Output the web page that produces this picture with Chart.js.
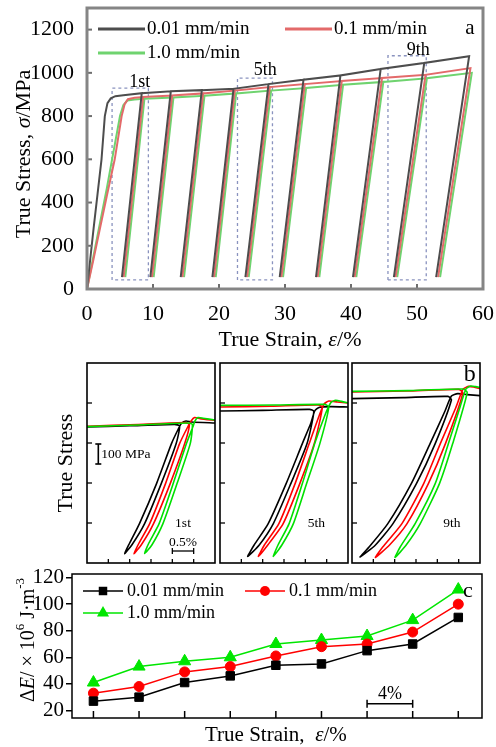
<!DOCTYPE html>
<html>
<head>
<meta charset="utf-8">
<script src="https://cdn.jsdelivr.net/npm/chart.js@4.4.1/dist/chart.umd.min.js"></script>
<style>
html, body { margin: 0; padding: 0; background: #fff; }
#wrap { position: relative; width: 496px; height: 747px; overflow: hidden; }
canvas { position: absolute; }
</style>
</head>
<body>
<div id="wrap">
  <canvas id="chartA" width="496" height="355" style="left:0;top:0"></canvas>
  <canvas id="chartB1" width="220" height="213" style="left:0;top:355px"></canvas>
  <canvas id="chartB2" width="136" height="213" style="left:216px;top:355px"></canvas>
  <canvas id="chartB3" width="148" height="213" style="left:348px;top:355px"></canvas>
  <canvas id="chartC" width="496" height="182" style="left:0;top:565px"></canvas>
</div>
<script>
// ---- data: panel a (true stress-strain, cyclic) ----
var seriesLabels = ['0.01 mm/min', '0.1 mm/min', '1.0 mm/min'];
var xTicksA = [0, 10, 20, 30, 40, 50, 60];
var yTicksA = [0, 200, 400, 600, 800, 1000, 1200];

var loadBlack = [[0,0],[0.5,140],[1.0,280],[1.6,440],[2.2,600],[2.7,800],[3.1,860],[3.6,882],[4.3,892],[5.5,896]];
var loadRed   = [[0,0],[1,140],[2,285],[3,430],[4.2,600],[5.25,800],[5.7,855],[6.2,878],[7.2,885]];
var loadGreen = [[0,0],[1,155],[2,310],[3,465],[3.8,600],[5.0,800],[5.5,850],[6.1,872],[7.2,877]];

var peakStrainBlack = [8.3, 12.7, 17.4, 22.2, 27.5, 32.8, 38.4, 44.5, 51.1, 57.9];
var peakStressBlack = [906, 915, 920, 926, 948, 968, 988, 1018, 1046, 1077];
var endStrainBlack  = [5.3, 9.6, 14.2, 19.0, 24.0, 29.2, 34.7, 40.3, 46.5, 52.9];

var peakStrainRed = [8.5, 12.9, 17.6, 22.4, 27.7, 33.0, 38.6, 44.7, 51.3, 58.1];
var peakStressRed = [888, 895, 905, 918, 934, 948, 962, 976, 991, 1022];
var endStrainRed  = [5.55, 9.85, 14.45, 19.25, 24.25, 29.45, 34.95, 40.55, 46.75, 53.2];

var peakStrainGreen = [8.7, 13.1, 17.8, 22.6, 27.9, 33.2, 38.8, 44.9, 51.5, 58.3];
var peakStressGreen = [880, 886, 894, 905, 918, 930, 945, 958, 975, 1000];
var endStrainGreen  = [5.8, 10.1, 14.7, 19.5, 24.5, 29.7, 35.2, 40.8, 47.0, 53.5];

var endStress = 55;

// dashed boxes around the 1st, 5th and 9th loops
var boxLeft = [3.8, 22.8, 45.6];
var boxRight = [9.3, 28.1, 51.4];
var boxTop = [929, 976, 1079];
var boxBottom = 42;

// ---- data: panel b (zoomed loops, relative strain in %, stress MPa) ----
var xTicksB = [0.5, 1, 1.5, 2, 2.5];
var yTicksB = [400, 600, 800, 1000];

var b1Black = [[0,880],[1.0,886],[2.05,893],[2.17,885],[2.09,797],[1.74,597],[1.35,397],[1.05,290],[0.88,247],[1.0,300],[1.23,397],[1.63,597],[1.98,797],[2.14,870],[2.22,900],[2.32,910],[2.45,905],[3,900]];
var b1Red   = [[0,884],[1.2,892],[2.3,902],[2.4,893],[2.29,797],[1.95,597],[1.56,397],[1.27,290],[1.1,247],[1.22,300],[1.47,397],[1.84,597],[2.17,797],[2.36,880],[2.44,910],[2.52,927],[2.65,922],[3,913]];
var b1Green = [[0,882],[1.2,890],[2.38,900],[2.47,893],[2.42,797],[2.11,597],[1.78,397],[1.52,290],[1.35,247],[1.45,300],[1.69,397],[2.02,597],[2.33,797],[2.48,880],[2.53,910],[2.6,927],[2.72,924],[3,915]];

var b2Black = [[0,960],[1.0,963],[2.1,968],[2.2,958],[2.04,797],[1.66,597],[1.25,397],[0.92,290],[0.65,233],[0.8,290],[1.13,397],[1.55,597],[1.93,797],[2.13,900],[2.22,960],[2.32,978],[2.6,982],[3,980]];
var b2Red   = [[0,980],[1.2,984],[2.3,990],[2.4,980],[2.21,797],[1.87,597],[1.48,397],[1.12,290],[0.9,233],[1.04,290],[1.38,397],[1.76,597],[2.09,797],[2.33,940],[2.44,995],[2.55,1010],[2.75,1005],[3,1000]];
var b2Green = [[0,988],[1.3,990],[2.45,993],[2.55,980],[2.34,797],[2.03,597],[1.72,397],[1.45,290],[1.25,233],[1.36,290],[1.62,397],[1.93,597],[2.22,797],[2.47,945],[2.6,1003],[2.71,1013],[2.85,1008],[3,1000]];

var b3Black = [[0,1022],[1.2,1027],[2.25,1033],[2.33,1015],[1.95,797],[1.51,597],[0.96,397],[0.55,290],[0.19,230],[0.4,280],[0.84,397],[1.39,597],[1.83,797],[2.18,960],[2.33,1035],[2.48,1047],[2.7,1042],[3,1037]];
var b3Red   = [[0,1055],[1.3,1060],[2.5,1068],[2.6,1050],[2.19,797],[1.79,597],[1.29,397],[0.88,290],[0.55,228],[0.72,280],[1.17,397],[1.68,597],[2.07,797],[2.43,975],[2.6,1068],[2.73,1083],[2.85,1080],[3,1072]];
var b3Green = [[0,1058],[1.3,1062],[2.6,1070],[2.7,1052],[2.36,797],[2.05,597],[1.6,397],[1.27,290],[1.01,228],[1.13,280],[1.48,397],[1.95,597],[2.26,797],[2.54,985],[2.67,1070],[2.78,1085],[2.9,1082],[3,1078]];

// ---- data: panel c (dissipated energy per cycle) ----
var cycleNo = [1, 2, 3, 4, 5, 6, 7, 8, 9];
var dEBlack = [27, 30, 41, 46, 54, 55, 65, 70, 90];
var dERed   = [33, 38, 49, 53, 61, 68, 70, 79, 100];
var dEGreen = [41, 53, 57, 60, 70, 73, 76, 88, 111];
var yTicksC = [20, 40, 60, 80, 100, 120];

// ---------------------------------------------------------------
var SERIF = '"Liberation Serif", "Times New Roman", serif';
Chart.defaults.font.family = SERIF;
Chart.defaults.color = '#000';

function font(size, italic) {
    return (italic ? 'italic ' : '') + size + 'px ' + SERIF;
}

function line(ctx, x0, y0, x1, y1) {
    ctx.beginPath();
    ctx.moveTo(x0, y0);
    ctx.lineTo(x1, y1);
    ctx.stroke();
}

// text made of runs with different fonts, centred at (x, y)
function drawRuns(ctx, runs, x, y, rot) {
    ctx.save();
    ctx.translate(x, y);
    if (rot) ctx.rotate(rot);
    ctx.textBaseline = 'middle';
    ctx.textAlign = 'left';
    ctx.fillStyle = '#000';
    var total = 0;
    runs.forEach(function (r) { ctx.font = r.font; total += ctx.measureText(r.text).width; });
    var cx = -total / 2;
    runs.forEach(function (r) {
        ctx.font = r.font;
        ctx.fillText(r.text, cx, r.dy || 0);
        cx += ctx.measureText(r.text).width;
    });
    ctx.restore();
}

function text(ctx, str, x, y, f, align) {
    ctx.font = f;
    ctx.fillStyle = '#000';
    ctx.textAlign = align || 'center';
    ctx.textBaseline = 'middle';
    ctx.fillText(str, x, y);
}

function pairs(arr) {
    return arr.map(function (p) { return {x: p[0], y: p[1]}; });
}

function cyclePath(load, peakX, peakY, endX) {
    var pts = pairs(load);
    peakX.forEach(function (px, i) {
        pts.push({x: px, y: peakY[i]});
        pts.push({x: endX[i], y: endStress});
        if (i < peakX.length - 1) pts.push({x: px, y: peakY[i]});
    });
    return pts;
}

function fixedTicks(list) {
    return function (scale) {
        scale.ticks = list.map(function (v) { return {value: v}; });
    };
}

function plain(v) { return String(v); }

var colA = {black: '#4d4d4d', red: '#e36a6a', green: '#6fd36f'};

// ---------------- panel a ----------------
var boxSets = boxLeft.map(function (l, i) {
    return {
        data: [{x: l, y: boxBottom}, {x: l, y: boxTop[i]}, {x: boxRight[i], y: boxTop[i]},
               {x: boxRight[i], y: boxBottom}, {x: l, y: boxBottom}],
        borderColor: '#8a93bf', borderWidth: 1.3, borderDash: [3, 3],
        pointRadius: 0, tension: 0, fill: false
    };
});

var panelA = {
    id: 'panelA',
    afterDraw: function (chart) {
        var ctx = chart.ctx, ca = chart.chartArea, x = chart.scales.x, y = chart.scales.y;
        ctx.save();
        ctx.strokeStyle = '#6e6e6e';
        ctx.lineWidth = 2;
        xTicksA.slice(1, -1).forEach(function (v) {
            var px = x.getPixelForValue(v);
            line(ctx, px, ca.bottom, px, ca.bottom - 5);
        });
        yTicksA.slice(1).forEach(function (v) {
            var py = y.getPixelForValue(v);
            line(ctx, ca.left, py, ca.left + 5, py);
        });
        ctx.strokeStyle = '#858585';
        ctx.lineWidth = 3;
        ctx.strokeRect(ca.left, ca.top, ca.right - ca.left, ca.bottom - ca.top);

        // loop labels
        var names = ['1st', '5th', '9th'], nx = [8.0, 27.0, 50.2], ny = [957, 1013, 1105];
        names.forEach(function (n, i) {
            text(ctx, n, x.getPixelForValue(nx[i]), y.getPixelForValue(ny[i]), font(18));
        });
        text(ctx, 'a', ca.right - 13, ca.top + 20, font(21));

        // legend
        var cols = [colA.black, colA.red, colA.green], lx = [98, 285, 98], ly = [29, 29, 53];
        seriesLabels.forEach(function (s, i) {
            ctx.strokeStyle = cols[i];
            ctx.lineWidth = 3;
            line(ctx, lx[i], ly[i], lx[i] + 47, ly[i]);
            text(ctx, s, lx[i] + 49, ly[i], font(19), 'left');
        });

        // axis titles
        drawRuns(ctx, [{text: 'True Strain, ', font: font(22)}, {text: '\u03b5', font: font(22, true)},
                       {text: '/%', font: font(22)}], 290, 340);
        drawRuns(ctx, [{text: 'True Stress, ', font: font(22)}, {text: '\u03c3', font: font(22, true)},
                       {text: '/MPa', font: font(22)}], 24, 154, -Math.PI / 2);
        ctx.restore();
    }
};

new Chart(document.getElementById('chartA'), {
    type: 'line',
    data: {
        datasets: [
            {data: cyclePath(loadBlack, peakStrainBlack, peakStressBlack, endStrainBlack),
             borderColor: colA.black, borderWidth: 2, pointRadius: 0, tension: 0},
            {data: cyclePath(loadRed, peakStrainRed, peakStressRed, endStrainRed),
             borderColor: colA.red, borderWidth: 2, pointRadius: 0, tension: 0},
            {data: cyclePath(loadGreen, peakStrainGreen, peakStressGreen, endStrainGreen),
             borderColor: colA.green, borderWidth: 2, pointRadius: 0, tension: 0}
        ].concat(boxSets)
    },
    options: {
        responsive: false, animation: false, events: [],
        layout: {padding: {left: 0, right: 13, top: 8, bottom: 0}, autoPadding: false},
        plugins: {legend: {display: false}, tooltip: {enabled: false}},
        scales: {
            x: {
                type: 'linear', min: 0, max: 60,
                afterBuildTicks: fixedTicks(xTicksA),
                afterFit: function (s) { s.height = 66; s.paddingLeft = 0; s.paddingRight = 0; },
                grid: {display: false}, border: {display: false},
                ticks: {font: {size: 22}, color: '#000', padding: 4, maxRotation: 0, autoSkip: false, callback: plain}
            },
            y: {
                type: 'linear', min: 0, max: 1300,
                afterBuildTicks: fixedTicks(yTicksA),
                afterFit: function (s) { s.width = 87; s.paddingTop = 0; s.paddingBottom = 0; },
                grid: {display: false}, border: {display: false},
                ticks: {font: {size: 22}, color: '#000', padding: 5, autoSkip: false, callback: plain}
            }
        }
    },
    plugins: [panelA]
});

// ---------------- panel b ----------------
function bPanel(opts) {
    return {
        id: 'bpanel',
        afterDraw: function (chart) {
            var ctx = chart.ctx, ca = chart.chartArea, x = chart.scales.x, y = chart.scales.y;
            ctx.save();
            ctx.strokeStyle = '#000';
            ctx.lineWidth = 1.3;
            xTicksB.forEach(function (v) {
                var px = x.getPixelForValue(v);
                line(ctx, px, ca.bottom, px, ca.bottom - 4);
            });
            yTicksB.forEach(function (v) {
                var py = y.getPixelForValue(v);
                line(ctx, ca.left, py, ca.left + 5, py);
            });
            ctx.lineWidth = 1.6;
            ctx.strokeRect(ca.left, ca.top, ca.right - ca.left, ca.bottom - ca.top);

            text(ctx, opts.name, x.getPixelForValue(opts.nameX), y.getPixelForValue(400), font(13.5));

            if (opts.bars) {
                // 100 MPa bar
                var bx = x.getPixelForValue(0.265), b0 = y.getPixelForValue(695), b1 = y.getPixelForValue(795);
                ctx.lineWidth = 1.6;
                line(ctx, bx, b0, bx, b1);
                line(ctx, bx - 3, b0, bx + 3, b0);
                line(ctx, bx - 3, b1, bx + 3, b1);
                text(ctx, '100 MPa', bx + 3, (b0 + b1) / 2, font(13.5), 'left');
                // 0.5 % bar
                var sy = y.getPixelForValue(260), s0 = x.getPixelForValue(2.0), s1 = x.getPixelForValue(2.5);
                ctx.lineWidth = 1.3;
                line(ctx, s0, sy, s1, sy);
                line(ctx, s0, sy - 3, s0, sy + 3);
                line(ctx, s1, sy - 3, s1, sy + 3);
                text(ctx, '0.5%', (s0 + s1) / 2, y.getPixelForValue(302), font(13.5));
                ctx.save();
                ctx.translate(66, (ca.top + ca.bottom) / 2);
                ctx.rotate(-Math.PI / 2);
                text(ctx, 'True Stress', 0, 0, font(22));
                ctx.restore();
            }
            if (opts.letter) {
                text(ctx, 'b', x.getPixelForValue(2.76), y.getPixelForValue(1140), font(24));
            }
            ctx.restore();
        }
    };
}

function bChart(id, blk, red, grn, pad, opts) {
    new Chart(document.getElementById(id), {
        type: 'line',
        data: {
            datasets: [
                {data: pairs(grn), borderColor: '#00e000', borderWidth: 1.6, pointRadius: 0, tension: 0.2},
                {data: pairs(red), borderColor: '#ff0000', borderWidth: 1.6, pointRadius: 0, tension: 0.2},
                {data: pairs(blk), borderColor: '#000000', borderWidth: 1.6, pointRadius: 0, tension: 0.2}
            ]
        },
        options: {
            responsive: false, animation: false, events: [],
            layout: {padding: pad, autoPadding: false},
            plugins: {legend: {display: false}, tooltip: {enabled: false}},
            scales: {
                x: {type: 'linear', min: 0, max: 3, display: false},
                y: {type: 'linear', min: 200, max: 1200, display: false}
            }
        },
        plugins: [bPanel(opts)]
    });
}

bChart('chartB1', b1Black, b1Red, b1Green, {left: 87, right: 5, top: 8, bottom: 5},
       {name: '1st', nameX: 2.25, bars: true});
bChart('chartB2', b2Black, b2Red, b2Green, {left: 4, right: 4, top: 8, bottom: 5},
       {name: '5th', nameX: 2.26});
bChart('chartB3', b3Black, b3Red, b3Green, {left: 4, right: 16, top: 8, bottom: 5},
       {name: '9th', nameX: 2.34, letter: true});

// ---------------- panel c ----------------
function marker(ctx, style, x, y, r, color) {
    ctx.fillStyle = color;
    ctx.beginPath();
    if (style === 'rect') {
        var h = r * Math.SQRT1_2;
        ctx.rect(x - h, y - h, 2 * h, 2 * h);
    } else if (style === 'circle') {
        ctx.arc(x, y, r, 0, Math.PI * 2);
    } else {
        ctx.moveTo(x, y - r);
        ctx.lineTo(x + r * 0.866, y + r / 2);
        ctx.lineTo(x - r * 0.866, y + r / 2);
        ctx.closePath();
    }
    ctx.fill();
}

var panelC = {
    id: 'panelC',
    afterDraw: function (chart) {
        var ctx = chart.ctx, ca = chart.chartArea, x = chart.scales.x, y = chart.scales.y;
        ctx.save();
        ctx.strokeStyle = '#000';
        ctx.lineWidth = 1.5;
        cycleNo.forEach(function (c) {
            var px = x.getPixelForValue(c);
            line(ctx, px, ca.bottom, px, ca.bottom - 7);
        });
        ctx.strokeRect(ca.left, ca.top, ca.right - ca.left, ca.bottom - ca.top);

        // 4 % bar
        var by = y.getPixelForValue(25), b0 = x.getPixelForValue(7), b1 = x.getPixelForValue(8);
        line(ctx, b0, by, b1, by);
        line(ctx, b0, by - 4, b0, by + 4);
        line(ctx, b1, by - 4, b1, by + 4);
        text(ctx, '4%', (b0 + b1) / 2, y.getPixelForValue(32), font(18));

        // legend
        var styles = ['rect', 'circle', 'triangle'], radii = [6, 5, 7];
        var cols = ['#000000', '#ff0000', '#00e600'];
        var lx = [83, 245, 83], ly = [26, 26, 48];
        seriesLabels.forEach(function (s, i) {
            ctx.strokeStyle = cols[i];
            ctx.lineWidth = 1.5;
            line(ctx, lx[i], ly[i], lx[i] + 40, ly[i]);
            marker(ctx, styles[i], lx[i] + 20, ly[i], radii[i], cols[i]);
            text(ctx, s, lx[i] + 44, ly[i], font(18), 'left');
        });
        text(ctx, 'c', ca.right - 14, ca.top + 17, font(22));

        // axis titles
        text(ctx, 'True Strain,', 205, 170, font(21), 'left');
        drawRuns(ctx, [{text: '\u03b5', font: font(21, true)}, {text: '/%', font: font(21)}], 331, 170);
        drawRuns(ctx, [
            {text: '\u0394', font: font(20)}, {text: 'E', font: font(20, true)},
            {text: '/ \u00d7 10', font: font(20)}, {text: '6', font: font(13), dy: -8},
            {text: ' J\u00b7m', font: font(20)}, {text: '-3', font: font(13), dy: -8}
        ], 29, 75, -Math.PI / 2);
        ctx.restore();
    }
};

function cSet(vals, color, style, r) {
    return {
        data: cycleNo.map(function (c, i) { return {x: c, y: vals[i]}; }),
        borderColor: color, backgroundColor: color, borderWidth: 1.5,
        pointStyle: style, pointRadius: r, pointBorderWidth: 1, tension: 0
    };
}

new Chart(document.getElementById('chartC'), {
    type: 'line',
    data: {
        datasets: [
            cSet(dEBlack, '#000000', 'rect', 6),
            cSet(dERed, '#ff0000', 'circle', 5),
            cSet(dEGreen, '#00e600', 'triangle', 7)
        ]
    },
    options: {
        responsive: false, animation: false, events: [],
        layout: {padding: {left: 0, right: 14, top: 9, bottom: 29}, autoPadding: false},
        plugins: {legend: {display: false}, tooltip: {enabled: false}},
        scales: {
            x: {type: 'linear', min: 0.53, max: 9.52, display: false},
            y: {
                type: 'linear', min: 14.3, max: 122.7,
                afterBuildTicks: fixedTicks(yTicksC),
                afterFit: function (s) { s.width = 72; s.paddingTop = 0; s.paddingBottom = 0; },
                grid: {display: true, drawOnChartArea: false, drawTicks: true, tickLength: 6,
                       color: '#000', lineWidth: 1.5},
                border: {display: false},
                ticks: {font: {size: 21}, color: '#000', padding: 2, autoSkip: false, callback: plain}
            }
        }
    },
    plugins: [panelC]
});
</script>
</body>
</html>
